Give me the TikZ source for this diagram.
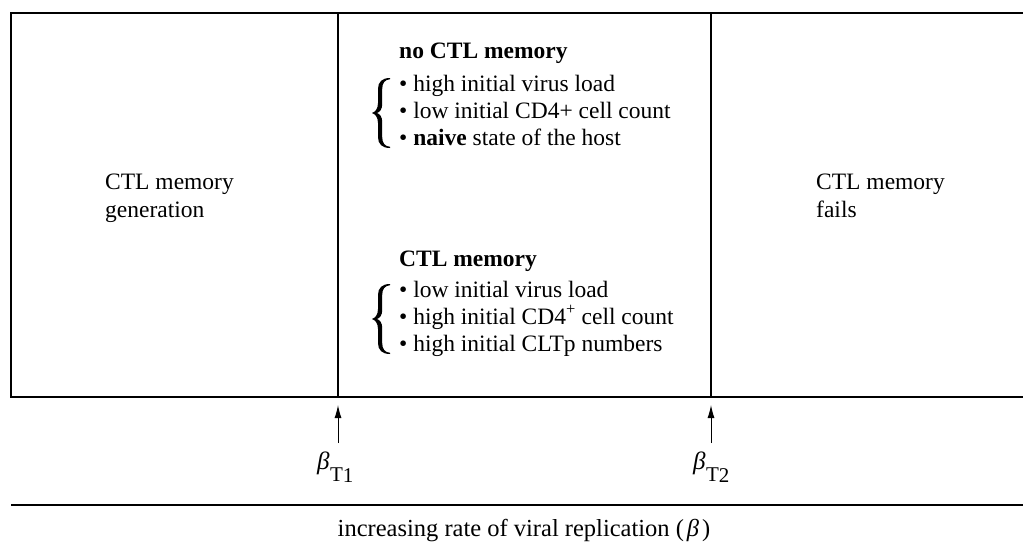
\documentclass[tikz,border=0pt]{standalone}
\usepackage{fontspec}
\setmainfont{Liberation Serif}
\usetikzlibrary{arrows.meta}
\tikzset{
  txt/.style={inner sep=0pt, anchor=base west, font=\fontsize{23.5}{27}\selectfont},
  hdr/.style={txt, font=\fontsize{23.5}{27}\selectfont\bfseries},
  frame/.style={line width=1.3pt},
  divider/.style={line width=1.1pt},
  uparrow/.style={line width=1pt, -{Latex[length=13pt,width=7pt]}},
  betalabel/.style={inner sep=0pt, anchor=base west, font=\fontsize{23}{27}\selectfont},
  curlybrace/.pic={
    \fill (18,-35) .. controls (10,-35) and (6,-31) .. (6,-24)
      -- (6,-10) .. controls (6,-4) and (3,-1) .. (0,0)
      .. controls (3,1) and (6,4) .. (6,10)
      -- (6,24) .. controls (6,31) and (10,35) .. (18,35)
      -- (18,33.8) .. controls (13,33.5) and (10.2,30) .. (10.2,24)
      -- (10.2,9) .. controls (10.2,4) and (8,1) .. (5,0)
      .. controls (8,-1) and (10.2,-4) .. (10.2,-9)
      -- (10.2,-24) .. controls (10.2,-30) and (13,-33.5) .. (18,-33.8)
      -- cycle;
  }
}
\newcommand{\btsub}[1]{{\fontsize{25}{27}\selectfont\itshape β}\kern0.5pt{\fontsize{21}{21}\selectfont\raisebox{-12pt}{T}\raisebox{-13.5pt}{#1}}}
\begin{document}
\begin{tikzpicture}[x=1pt,y=-1pt]
\useasboundingbox (0,0) rectangle (1023,541);
% frame
\coordinate (tl) at (11,13);
\coordinate (tr) at (1023,13);
\coordinate (bl) at (11,397);
\coordinate (br) at (1023,397);
\coordinate (axl) at (11,505);
\coordinate (axr) at (1023,505);
\draw[frame] (tr) -- (tl) -- (bl) -- (br);
\draw[frame] (axl) -- (axr);
% dividers
\coordinate (d1t) at (338,13);
\coordinate (d1b) at (338,397);
\coordinate (d2t) at (711,13);
\coordinate (d2b) at (711,397);
\draw[divider] (d1t) -- (d1b);
\draw[divider] (d2t) -- (d2b);
% left and right texts
\node[txt] (l1) at (105,189) {CTL memory};
\node[txt] (l2) at (105,217) {generation};
\node[txt] (r1) at (816,189) {CTL memory};
\node[txt] (r2) at (816,217) {fails};
% upper block
\node[hdr] (uh) at (399,58) {no CTL memory};
\node[txt] (u1) at (399,91) {• high initial virus load};
\node[txt] (u2) at (399,118) {• low initial CD4+ cell count};
\node[txt] (u3) at (399,145) {• \textbf{naive} state of the host};
\pic (ub) at (372,113) {curlybrace};
% lower block
\node[hdr] (lh) at (399,266) {CTL memory};
\node[txt] (w1) at (399,297) {• low initial virus load};
\node[txt] (w2) at (399,324) {• high initial CD4\textsuperscript{+} cell count};
\node[txt] (w3) at (399,351) {• high initial CLTp numbers};
\pic (lb) at (372,319) {curlybrace};
% arrows
\coordinate (a1s) at (338,443);
\coordinate (a1e) at (338,405);
\coordinate (a2s) at (711,443);
\coordinate (a2e) at (711,405);
\draw[uparrow] (a1s) -- (a1e);
\draw[uparrow] (a2s) -- (a2e);
\node[betalabel] (b1) at (317,469) {\btsub{1}};
\node[betalabel] (b2) at (693,469) {\btsub{2}};
% axis label
\node[txt, anchor=base, font=\fontsize{24.5}{27}\selectfont] (ax) at (524,536) {increasing rate of viral replication (\kern3pt{\itshape β}\kern3pt)};
\end{tikzpicture}
\end{document}
